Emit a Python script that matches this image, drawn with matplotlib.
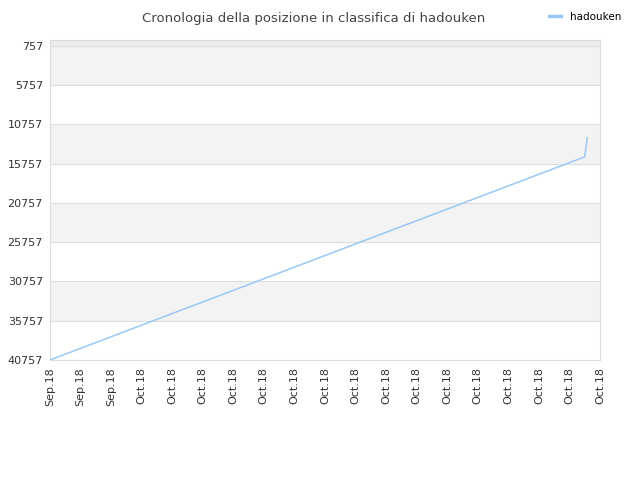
import datetime as dt

import matplotlib
matplotlib.use("Agg")
import matplotlib.pyplot as plt
import matplotlib.dates as mdates

# data
dates = [dt.datetime(2018, 9, 28), dt.datetime(2018, 10, 15, 12), dt.datetime(2018, 10, 15, 14)]
ranks = [40757, 14900, 12480]
player = "hadouken"

tick_dates = [dt.datetime(2018, 9, 28) + dt.timedelta(days=i) for i in range(19)]
y_ticks = [757 + 5000 * i for i in range(9)]

fig = plt.figure(figsize=(6.4, 4.8), dpi=100)
ax = fig.add_axes([0.078, 0.25, 0.8595, 0.667])

ax.set_ylim(40757, 0)
ax.set_xlim(tick_dates[0], tick_dates[-1])

# alternating bands
ax.axhspan(0, 757, color="#ececec", zorder=0, lw=0)
for i in range(len(y_ticks) - 1):
    if i % 2 == 0:
        ax.axhspan(y_ticks[i], y_ticks[i + 1], color="#f3f3f3", zorder=0, lw=0)

ax.plot(dates, ranks, color="#99c8f5", lw=1.1, label=player, zorder=3)

ax.set_yticks(y_ticks)
ax.set_yticklabels([str(v) for v in y_ticks])
ax.set_xticks(tick_dates)
ax.xaxis.set_major_formatter(mdates.DateFormatter("%b.%y"))
plt.setp(ax.get_xticklabels(), rotation=90)
ax.tick_params(axis="both", length=0, labelsize=8, colors="#333333", pad=5)
ax.grid(axis="y", color="#dddddd", lw=0.8, zorder=1)
for s in ax.spines.values():
    s.set_color("#dddddd")

fig.text(0.49, 0.975, "Cronologia della posizione in classifica di hadouken",
         ha="center", va="top", fontsize=9.5, color="#444444")
leg = fig.legend(loc="upper right", bbox_to_anchor=(0.985, 0.995), frameon=False,
                 fontsize=7.5, handlelength=1.2, handletextpad=0.8)
for h in leg.get_lines():
    h.set_linewidth(2.5)

fig.savefig("out.png")
